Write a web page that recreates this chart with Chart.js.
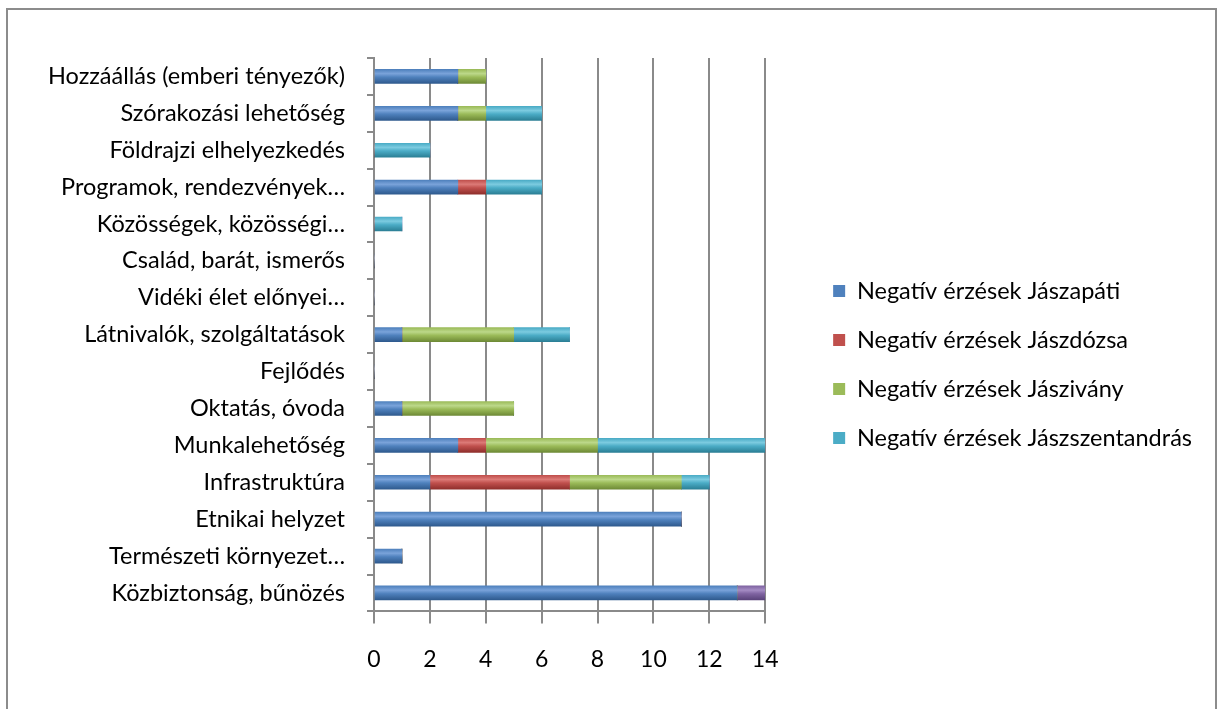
<!DOCTYPE html>
<html>
<head>
<meta charset="utf-8">
<script src="https://cdn.jsdelivr.net/npm/chart.js@4/dist/chart.umd.min.js"></script>
<style>
  html, body { margin: 0; padding: 0; background: #ffffff; overflow: hidden; }
  #frame { position: absolute; left: 6px; top: 8px; width: 1211px; height: 720px; border: 2px solid #8c8c8c; box-sizing: border-box; }
  #c { position: absolute; left: 0; top: 0; }
</style>
</head>
<body>
<div id="frame"></div>
<canvas id="c" width="1222" height="709"></canvas>
<script>
const categories = [
  "Hozzáállás (emberi tényezők)",
  "Szórakozási lehetőség",
  "Földrajzi elhelyezkedés",
  "Programok, rendezvények…",
  "Közösségek, közösségi…",
  "Család, barát, ismerős",
  "Vidéki élet előnyei…",
  "Látnivalók, szolgáltatások",
  "Fejlődés",
  "Oktatás, óvoda",
  "Munkalehetőség",
  "Infrastruktúra",
  "Etnikai helyzet",
  "Természeti környezet…",
  "Közbiztonság, bűnözés"
];
const seriesNames = [
  "Negatív érzések Jászapáti",
  "Negatív érzések Jászdózsa",
  "Negatív érzések Jászivány",
  "Negatív érzések Jászszentandrás",
  ""
];
const jaszapati       = [3, 3, 0, 3, 0, 0, 0, 1, 0, 1, 3, 2, 11, 1, 13];
const jaszdozsa       = [0, 0, 0, 1, 0, 0, 0, 0, 0, 0, 1, 5, 0, 0, 0];
const jaszivany       = [1, 1, 0, 0, 0, 0, 0, 4, 0, 4, 4, 4, 0, 0, 0];
const jaszszentandras = [0, 2, 2, 2, 1, 0, 0, 2, 0, 0, 6, 1, 0, 0, 0];
const egyeb           = [0, 0, 0, 0, 0, 0, 0, 0, 0, 0, 0, 0, 0, 0, 1];
const xTicks = [0, 2, 4, 6, 8, 10, 12, 14];

const baseColors = ["#4f81bd", "#c0504d", "#9bbb59", "#4bacc6", "#8064a2"];
const lightColors = ["#7aa3da", "#dc7a77", "#bcd88a", "#7ccbe0", "#a58cc4"];
const darkColors = ["#2f5a8e", "#8f2f2c", "#6e8a36", "#2b7f95", "#5a437a"];

function cylinder(i) {
  return function(ctx) {
    const chart = ctx.chart;
    const ys = chart.scales && chart.scales.y;
    if (!chart.chartArea || !ys || ctx.dataIndex === undefined) return baseColors[i];
    const y = ys.getPixelForValue(ctx.dataIndex);
    const g = chart.ctx.createLinearGradient(0, y - 7, 0, y + 7);
    g.addColorStop(0, baseColors[i]);
    g.addColorStop(0.3, lightColors[i]);
    g.addColorStop(0.55, baseColors[i]);
    g.addColorStop(1, darkColors[i]);
    return g;
  };
}

const values = [jaszapati, jaszdozsa, jaszivany, jaszszentandras, egyeb];
const datasets = values.map((v, i) => ({
  label: seriesNames[i],
  data: v,
  backgroundColor: cylinder(i),
  borderWidth: 0,
  barThickness: 14,
  legendColor: baseColors[i]
}));

const FONT = "Lato, 'Open Sans', sans-serif";
const LEGEND_GAP = 42.5;
const LEGEND_SHIFT_UP = 12;

const legendGap = {
  id: "legendGap",
  beforeInit(chart) {
    const lg = chart.legend;
    if (!lg) return;
    const origFit = lg.fit;
    lg.fit = function() {
      origFit.call(this);
      this.width += LEGEND_GAP;
    };
  },
  afterLayout(chart) {
    const lg = chart.legend;
    if (lg) {
      lg.left += LEGEND_GAP;
      lg.top -= LEGEND_SHIFT_UP;
      lg.bottom -= LEGEND_SHIFT_UP;
    }
  }
};

new Chart(document.getElementById("c"), {
  type: "bar",
  data: { labels: categories, datasets: datasets },
  plugins: [legendGap],
  options: {
    indexAxis: "y",
    responsive: false,
    animation: false,
    layout: { padding: { top: 58, bottom: 14, left: 0, right: 20 } },
    scales: {
      x: {
        stacked: true,
        min: 0,
        max: 14,
        afterBuildTicks: (s) => { s.ticks = xTicks.map(v => ({ value: v })); },
        grid: { color: "#8a8a8a", lineWidth: 2, tickLength: 12, drawTicks: true },
        border: { color: "#8a8a8a", width: 2 },
        ticks: { color: "#000", font: { family: FONT, size: 23 }, padding: 22 }
      },
      y: {
        stacked: true,
        afterFit: (s) => { s.width = 374; },
        grid: { display: true, drawOnChartArea: false, color: "#8a8a8a", lineWidth: 2, tickLength: 7, offset: true },
        border: { color: "#8a8a8a", width: 2 },
        ticks: { color: "#000", font: { family: FONT, size: 23.5 }, padding: 22, autoSkip: false }
      }
    },
    plugins: {
      tooltip: { enabled: false },
      legend: {
        position: "right",
        align: "center",
        maxWidth: 700,
        labels: {
          color: "#000",
          font: { family: FONT, size: 23.5 },
          boxWidth: 12,
          boxHeight: 12,
          padding: 25.5,
          filter: (item) => item.datasetIndex < 4,
          generateLabels: (chart) => chart.data.datasets.map((d, i) => ({
            text: d.label,
            fillStyle: d.legendColor,
            strokeStyle: d.legendColor,
            lineWidth: 0,
            hidden: false,
            datasetIndex: i,
            fontColor: "#000"
          }))
        }
      }
    }
  }
});
</script>
</body>
</html>
